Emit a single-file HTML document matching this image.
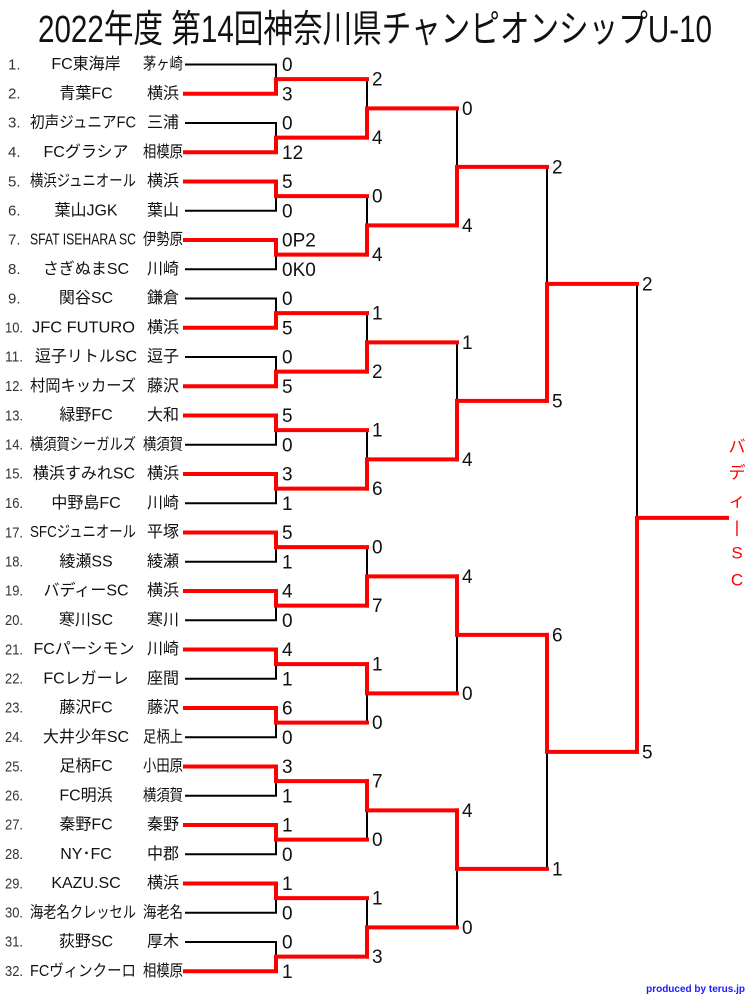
<!DOCTYPE html>
<html><head><meta charset="utf-8"><style>
html,body{margin:0;padding:0;background:#fff;width:750px;height:1000px;overflow:hidden}
svg{display:block}
text{font-family:"Liberation Sans","Noto Sans CJK JP",sans-serif;fill:#111}
.n text{font-size:15px;fill:#333;dominant-baseline:central}
.t{font-size:16px;text-anchor:middle;dominant-baseline:central}
.s{font-size:19px;dominant-baseline:central}
.k{stroke:#000;stroke-width:2;fill:none}
.r{stroke:#f00;stroke-width:4;fill:none;stroke-linecap:square}
</style></head><body>
<svg width="750" height="1000" viewBox="0 0 750 1000">
<text x="38" y="42" font-size="38" textLength="674" lengthAdjust="spacingAndGlyphs">2022年度 第14回神奈川県チャンピオンシップU-10</text>

<g class="n">
<text x="8" y="65">1.</text><text x="8" y="94">2.</text><text x="8" y="123">3.</text><text x="8" y="152.5">4.</text>
<text x="8" y="182">5.</text><text x="8" y="211">6.</text><text x="8" y="240">7.</text><text x="8" y="269.5">8.</text>
<text x="8" y="299">9.</text><text x="5" y="328" textLength="18" lengthAdjust="spacingAndGlyphs">10.</text><text x="5" y="357" textLength="18" lengthAdjust="spacingAndGlyphs">11.</text><text x="5" y="386.5" textLength="18" lengthAdjust="spacingAndGlyphs">12.</text>
<text x="5" y="416" textLength="18" lengthAdjust="spacingAndGlyphs">13.</text><text x="5" y="445" textLength="18" lengthAdjust="spacingAndGlyphs">14.</text><text x="5" y="474" textLength="18" lengthAdjust="spacingAndGlyphs">15.</text><text x="5" y="503.5" textLength="18" lengthAdjust="spacingAndGlyphs">16.</text>
<text x="5" y="533" textLength="18" lengthAdjust="spacingAndGlyphs">17.</text><text x="5" y="562" textLength="18" lengthAdjust="spacingAndGlyphs">18.</text><text x="5" y="591" textLength="18" lengthAdjust="spacingAndGlyphs">19.</text><text x="5" y="620.5" textLength="18" lengthAdjust="spacingAndGlyphs">20.</text>
<text x="5" y="650" textLength="18" lengthAdjust="spacingAndGlyphs">21.</text><text x="5" y="679" textLength="18" lengthAdjust="spacingAndGlyphs">22.</text><text x="5" y="708" textLength="18" lengthAdjust="spacingAndGlyphs">23.</text><text x="5" y="737.5" textLength="18" lengthAdjust="spacingAndGlyphs">24.</text>
<text x="5" y="767" textLength="18" lengthAdjust="spacingAndGlyphs">25.</text><text x="5" y="796" textLength="18" lengthAdjust="spacingAndGlyphs">26.</text><text x="5" y="825" textLength="18" lengthAdjust="spacingAndGlyphs">27.</text><text x="5" y="854.5" textLength="18" lengthAdjust="spacingAndGlyphs">28.</text>
<text x="5" y="884" textLength="18" lengthAdjust="spacingAndGlyphs">29.</text><text x="5" y="913" textLength="18" lengthAdjust="spacingAndGlyphs">30.</text><text x="5" y="942" textLength="18" lengthAdjust="spacingAndGlyphs">31.</text><text x="5" y="971.5" textLength="18" lengthAdjust="spacingAndGlyphs">32.</text>
</g>

<g class="t">
<text x="86" y="64.5">FC東海岸</text>
<text x="86" y="93.75">青葉FC</text>
<text x="30" y="123" text-anchor="start" textLength="106" lengthAdjust="spacingAndGlyphs">初声ジュニアFC</text>
<text x="86" y="152.25">FCグラシア</text>
<text x="30" y="181.5" text-anchor="start" textLength="106" lengthAdjust="spacingAndGlyphs">横浜ジュニオール</text>
<text x="86" y="210.75">葉山JGK</text>
<text x="30" y="240" text-anchor="start" textLength="106" lengthAdjust="spacingAndGlyphs">SFAT ISEHARA SC</text>
<text x="86" y="269.25">さぎぬまSC</text>
<text x="86" y="298.5">関谷SC</text>
<text x="32" y="327.75" text-anchor="start" textLength="103" lengthAdjust="spacingAndGlyphs">JFC FUTURO</text>
<text x="86" y="357">逗子リトルSC</text>
<text x="30" y="386.25" text-anchor="start" textLength="106" lengthAdjust="spacingAndGlyphs">村岡キッカーズ</text>
<text x="86" y="415.5">緑野FC</text>
<text x="30" y="444.75" text-anchor="start" textLength="106" lengthAdjust="spacingAndGlyphs">横須賀シーガルズ</text>
<text x="84" y="474">横浜すみれSC</text>
<text x="86" y="503.25">中野島FC</text>
<text x="30" y="532.5" text-anchor="start" textLength="106" lengthAdjust="spacingAndGlyphs">SFCジュニオール</text>
<text x="86" y="561.75">綾瀬SS</text>
<text x="86" y="591">バディーSC</text>
<text x="86" y="620.25">寒川SC</text>
<text x="84" y="649.5">FCパーシモン</text>
<text x="86" y="678.75">FCレガーレ</text>
<text x="86" y="708">藤沢FC</text>
<text x="86" y="737.25">大井少年SC</text>
<text x="86" y="766.5">足柄FC</text>
<text x="86" y="795.75">FC明浜</text>
<text x="86" y="825">秦野FC</text>
<text x="86" y="854.25">NY･FC</text>
<text x="86" y="883.5">KAZU.SC</text>
<text x="30" y="912.75" text-anchor="start" textLength="106" lengthAdjust="spacingAndGlyphs">海老名クレッセル</text>
<text x="86" y="942">荻野SC</text>
<text x="30" y="971.25" text-anchor="start" textLength="106" lengthAdjust="spacingAndGlyphs">FCヴィンクーロ</text>
</g>

<g class="t">
<text x="143" y="64.5" text-anchor="start" textLength="40" lengthAdjust="spacingAndGlyphs">茅ヶ崎</text>
<text x="163" y="93.75">横浜</text>
<text x="163" y="123">三浦</text>
<text x="143" y="152.25" text-anchor="start" textLength="40" lengthAdjust="spacingAndGlyphs">相模原</text>
<text x="163" y="181.5">横浜</text>
<text x="163" y="210.75">葉山</text>
<text x="143" y="240" text-anchor="start" textLength="40" lengthAdjust="spacingAndGlyphs">伊勢原</text>
<text x="163" y="269.25">川崎</text>
<text x="163" y="298.5">鎌倉</text>
<text x="163" y="327.75">横浜</text>
<text x="163" y="357">逗子</text>
<text x="163" y="386.25">藤沢</text>
<text x="163" y="415.5">大和</text>
<text x="143" y="444.75" text-anchor="start" textLength="40" lengthAdjust="spacingAndGlyphs">横須賀</text>
<text x="163" y="474">横浜</text>
<text x="163" y="503.25">川崎</text>
<text x="163" y="532.5">平塚</text>
<text x="163" y="561.75">綾瀬</text>
<text x="163" y="591">横浜</text>
<text x="163" y="620.25">寒川</text>
<text x="163" y="649.5">川崎</text>
<text x="163" y="678.75">座間</text>
<text x="163" y="708">藤沢</text>
<text x="143" y="737.25" text-anchor="start" textLength="40" lengthAdjust="spacingAndGlyphs">足柄上</text>
<text x="143" y="766.5" text-anchor="start" textLength="40" lengthAdjust="spacingAndGlyphs">小田原</text>
<text x="143" y="795.75" text-anchor="start" textLength="40" lengthAdjust="spacingAndGlyphs">横須賀</text>
<text x="163" y="825">秦野</text>
<text x="163" y="854.25">中郡</text>
<text x="163" y="883.5">横浜</text>
<text x="143" y="912.75" text-anchor="start" textLength="40" lengthAdjust="spacingAndGlyphs">海老名</text>
<text x="163" y="942">厚木</text>
<text x="143" y="971.25" text-anchor="start" textLength="40" lengthAdjust="spacingAndGlyphs">相模原</text>
</g>

<g class="k">
<path d="M185 64.5H276V79.1"/>
<path d="M185 123H276V137.6"/>
<path d="M185 210.75H276V196.1"/>
<path d="M185 269.25H276V254.6"/>
<path d="M185 298.5H276V313.1"/>
<path d="M185 357H276V371.6"/>
<path d="M185 444.75H276V430.1"/>
<path d="M185 503.25H276V488.6"/>
<path d="M185 561.75H276V547.1"/>
<path d="M185 620.25H276V605.6"/>
<path d="M185 678.75H276V664.1"/>
<path d="M185 737.25H276V722.6"/>
<path d="M185 795.75H276V781.1"/>
<path d="M185 854.25H276V839.6"/>
<path d="M185 912.75H276V898.1"/>
<path d="M185 942H276V956.6"/>
<path d="M276 79.1H367V108.4"/>
<path d="M276 196.1H367V225.4"/>
<path d="M276 313.1H367V342.4"/>
<path d="M276 430.1H367V459.4"/>
<path d="M276 547.1H367V576.4"/>
<path d="M276 722.6H367V693.4"/>
<path d="M276 839.6H367V810.4"/>
<path d="M276 898.1H367V927.4"/>
<path d="M367 108.4H457V166.9"/>
<path d="M367 342.4H457V400.9"/>
<path d="M367 693.4H457V634.9"/>
<path d="M367 927.4H457V868.9"/>
<path d="M457 166.9H547V283.9"/>
<path d="M457 868.9H547V751.9"/>
<path d="M547 283.9H637V517.9"/>
</g>

<g class="r">
<path d="M185 93.75H276V79.1H367"/>
<path d="M185 152.25H276V137.6H367"/>
<path d="M185 181.5H276V196.1H367"/>
<path d="M185 240H276V254.6H367"/>
<path d="M185 327.75H276V313.1H367"/>
<path d="M185 386.25H276V371.6H367"/>
<path d="M185 415.5H276V430.1H367"/>
<path d="M185 474H276V488.6H367"/>
<path d="M185 532.5H276V547.1H367"/>
<path d="M185 591H276V605.6H367"/>
<path d="M185 649.5H276V664.1H367"/>
<path d="M185 708H276V722.6H367"/>
<path d="M185 766.5H276V781.1H367"/>
<path d="M185 825H276V839.6H367"/>
<path d="M185 883.5H276V898.1H367"/>
<path d="M185 971.25H276V956.6H367"/>
<path d="M367 137.6V108.4H457"/>
<path d="M367 254.6V225.4H457"/>
<path d="M367 371.6V342.4H457"/>
<path d="M367 488.6V459.4H457"/>
<path d="M367 605.6V576.4H457"/>
<path d="M367 664.1V693.4H457"/>
<path d="M367 781.1V810.4H457"/>
<path d="M367 956.6V927.4H457"/>
<path d="M457 225.4V166.9H547"/>
<path d="M457 459.4V400.9H547"/>
<path d="M457 576.4V634.9H547"/>
<path d="M457 810.4V868.9H547"/>
<path d="M547 400.9V283.9H637"/>
<path d="M547 634.9V751.9H637"/>
<path d="M637 751.9V517.9H727"/>
</g>

<g class="s">
<text x="282" y="65.5">0</text><text x="282" y="94.75">3</text><text x="282" y="124">0</text><text x="282" y="153.25">12</text>
<text x="282" y="182.5">5</text><text x="282" y="211.75">0</text><text x="282" y="241">0P2</text><text x="282" y="270.25">0K0</text>
<text x="282" y="299.5">0</text><text x="282" y="328.75">5</text><text x="282" y="358">0</text><text x="282" y="387.25">5</text>
<text x="282" y="416.5">5</text><text x="282" y="445.75">0</text><text x="282" y="475">3</text><text x="282" y="504.25">1</text>
<text x="282" y="533.5">5</text><text x="282" y="562.75">1</text><text x="282" y="592">4</text><text x="282" y="621.25">0</text>
<text x="282" y="650.5">4</text><text x="282" y="679.75">1</text><text x="282" y="709">6</text><text x="282" y="738.25">0</text>
<text x="282" y="767.5">3</text><text x="282" y="796.75">1</text><text x="282" y="826">1</text><text x="282" y="855.25">0</text>
<text x="282" y="884.5">1</text><text x="282" y="913.75">0</text><text x="282" y="943">0</text><text x="282" y="972.25">1</text>

<text x="372" y="80.1">2</text><text x="372" y="138.6">4</text><text x="372" y="197.1">0</text><text x="372" y="255.6">4</text>
<text x="372" y="314.1">1</text><text x="372" y="372.6">2</text><text x="372" y="431.1">1</text><text x="372" y="489.6">6</text>
<text x="372" y="548.1">0</text><text x="372" y="606.6">7</text><text x="372" y="665.1">1</text><text x="372" y="723.6">0</text>
<text x="372" y="782.1">7</text><text x="372" y="840.6">0</text><text x="372" y="899.1">1</text><text x="372" y="957.6">3</text>

<text x="462" y="109.4">0</text><text x="462" y="226.4">4</text><text x="462" y="343.4">1</text><text x="462" y="460.4">4</text>
<text x="462" y="577.4">4</text><text x="462" y="694.4">0</text><text x="462" y="811.4">4</text><text x="462" y="928.4">0</text>

<text x="552" y="167.9">2</text><text x="552" y="401.9">5</text><text x="552" y="635.9">6</text><text x="552" y="869.9">1</text>

<text x="642" y="284.9">2</text><text x="642" y="752.9">5</text>
</g>

<g style="font-size:17px;text-anchor:middle;dominant-baseline:central">
<text x="737" y="447" style="fill:#f00">バ</text>
<text x="737" y="473" style="fill:#f00">デ</text>
<text x="737" y="501" style="fill:#f00">ィ</text>
<text x="737" y="527" style="fill:#f00">|</text>
<text x="737" y="553" style="fill:#f00">S</text>
<text x="737" y="580" style="fill:#f00">C</text>
</g>

<text x="745" y="992" text-anchor="end" style="font-size:10px;font-weight:bold;fill:#1a1aff">produced by terus.jp</text>
</svg>
</body></html>
